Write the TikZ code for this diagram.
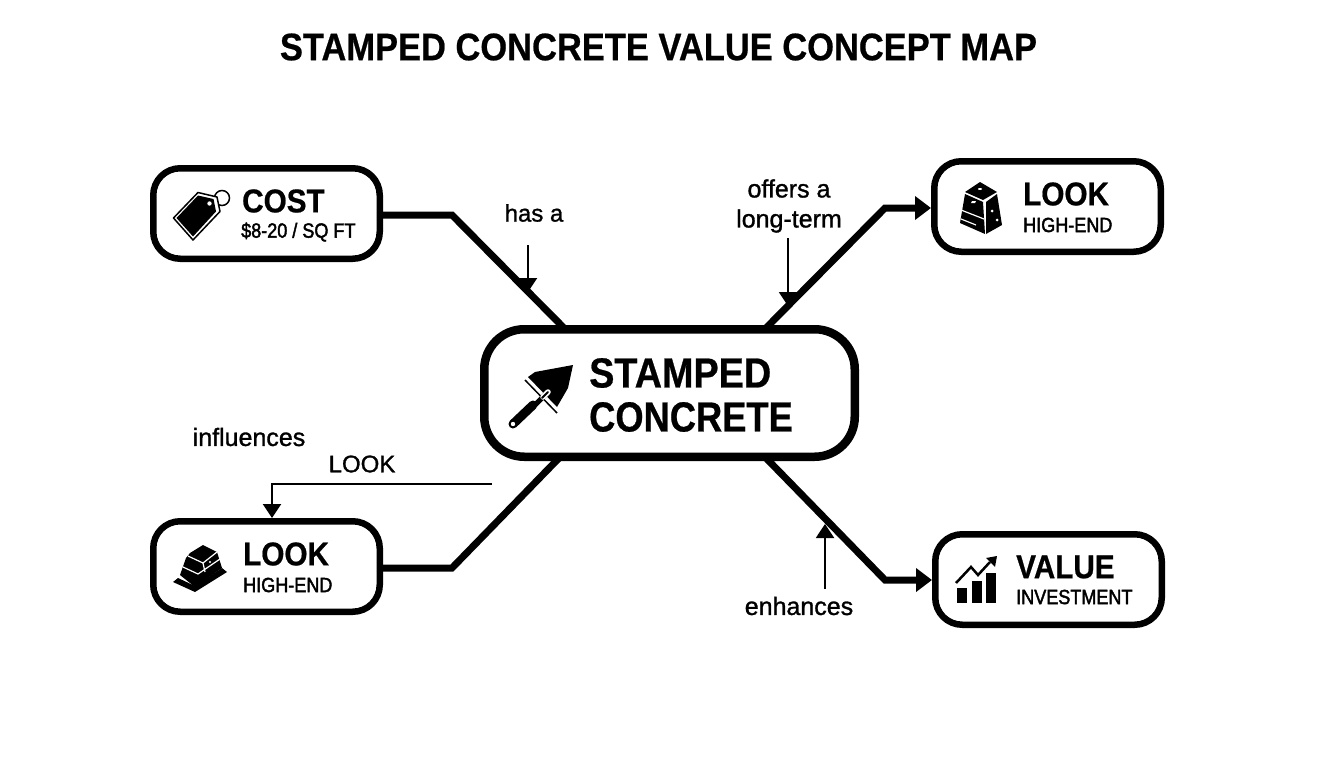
\documentclass[tikz,border=0pt]{standalone}
\usepackage{fontspec}
\setmainfont{Liberation Sans}
\newfontface\headfont[FakeStretch=0.9,FakeBold=0.6]{Liberation Sans Bold}
\newfontface\subfont[FakeStretch=0.88,FakeBold=2]{Liberation Sans}
\newfontface\labelfont[FakeBold=1.2]{Liberation Sans}
\usetikzlibrary{positioning,arrows.meta}

\begin{document}
\begin{tikzpicture}[
    x = 1pt,
    y = -1pt,
    >= {Triangle[length=14pt,width=18pt]},
    mapbox/.style={draw, line width=6.5pt, rounded corners=27pt, minimum width=226.5pt, minimum height=90.5pt, inner sep=0pt},
    mainbox/.style={draw, line width=8.5pt, rounded corners=40pt, minimum width=370.5pt, minimum height=127.5pt, inner sep=0pt},
    link/.style={line width=7pt, line join=miter},
    linkin/.style={link, -{Triangle[length=16pt,width=23pt]}},
    pointer/.style={line width=2pt, ->},
    head/.style={anchor=west, inner sep=0pt, font=\headfont\fontsize{33}{33}\selectfont},
    subhead/.style={anchor=west, inner sep=0pt, font=\subfont\fontsize{20.5}{20.5}\selectfont},
    mainhead/.style={anchor=west, inner sep=0pt, font=\headfont\fontsize{42}{42}\selectfont},
    tag/.style={inner sep=0pt, font=\labelfont\fontsize{25}{30}\selectfont, align=center}
]
    \useasboundingbox (0,0) rectangle (1344,768);

    \node[inner sep=0pt, font=\headfont\fontsize{38.3}{38.3}\selectfont] (title) at (658.5,47) {STAMPED CONCRETE VALUE CONCEPT MAP};

    % boxes
    \node[mainbox] (main) at (669.5,393) {};
    \node[mapbox, above left=63pt and 97pt of main] (cost) {};
    \node[mapbox, above right=70pt and 72pt of main] (looktop) {};
    \node[mapbox, below left=57pt and 97pt of main] (lookbot) {};
    \node[mapbox, below right=70pt and 73pt of main] (value) {};

    % box texts
    \node[mainhead] (stamped) at (589,373) {STAMPED};
    \node[mainhead, xscale=0.96] (concrete) at (589,417) {CONCRETE};
    \node[head] (costhead) at (242,201) {COST};
    \node[subhead] (costsub) at (241,232) {\$8-20 / SQ FT};
    \node[head] (lookhead) at (1023,194) {LOOK};
    \node[subhead] (looksub) at (1023,225) {HIGH-END};
    \node[head] (lookbothead) at (243,554) {LOOK};
    \node[subhead] (lookbotsub) at (243,585) {HIGH-END};
    \node[head] (valuehead) at (1016,567) {VALUE};
    \node[subhead] (valuesub) at (1016,597) {INVESTMENT};

    % connectors
    \coordinate (costbend) at (452,215);
    \coordinate (costend) at (565,329);
    \coordinate (lookbend) at (885,208);
    \coordinate (lookend) at (765,329);
    \coordinate (lowbend) at (452,568);
    \coordinate (lowend) at (560,457);
    \coordinate (valuebend) at (885,580);
    \coordinate (valueend) at (765,457);
    \draw[link] (cost.east |- costbend) -- (costbend) -- (costend);
    \draw[linkin] (lookend) -- (lookbend) -- (looktop.west |- lookbend);
    \draw[link] (lookbot.east |- lowbend) -- (lowbend) -- (lowend);
    \draw[linkin] (valueend) -- (valuebend) -- (value.west |- valuebend);

    % small labels and their pointers
    \node[tag, font=\labelfont\fontsize{24}{30}\selectfont] (hasa) at (534,213) {has a};
    \node[tag] (offers) at (789,206) {offers a\\long-term};
    \node[tag] (influences) at (249,437) {influences};
    \node[tag, font=\labelfont\fontsize{24}{30}\selectfont] (looklabel) at (362,464) {LOOK};
    \node[tag] (enhances) at (799,606) {enhances};
    \coordinate (hasfrom) at (528,245);
    \coordinate (hasto) at (528,292);
    \coordinate (offersfrom) at (788,238);
    \coordinate (offersto) at (788,306);
    \coordinate (enhfrom) at (825,589);
    \coordinate (enhto) at (825,524);
    \coordinate (leadfrom) at (492,484);
    \coordinate (leadbend) at (272,484);
    \draw[pointer] (hasfrom) -- (hasto);
    \draw[pointer] (offersfrom) -- (offersto);
    \draw[pointer] (enhfrom) -- (enhto);
    \draw[pointer] (leadfrom) -- (leadbend) -- (leadbend |- lookbot.north);

    % tag icon
    \draw[line width=1.5pt] (222,198) circle (7.5);
    \draw[line width=1.5pt, fill=white, line join=round] (173.5,218) -- (193,240) -- (220,211.5) -- (217,197) -- (198,192.5) -- cycle;
    \fill[line join=round] (176.5,218) -- (193,236.5) -- (216,211.5) -- (213.5,199) -- (198,195.5) -- cycle;
    \fill[white] (209.5,203.5) circle (2.2);

    % tall block icon
    \fill (965,192) -- (980,182) -- (997,192) -- (983,200) -- cycle;
    \fill (965,194) -- (983,202) -- (985,234) -- (960,223) -- cycle;
    \fill (986,202) -- (997,194) -- (1002,225) -- (986,234) -- cycle;
    \draw[white, line width=1.2pt] (961,210) -- (984,219);
    \draw[white, line width=1.2pt] (961,219) -- (976,225);
    \fill[white] (972,201) -- (976,201) -- (975,203) -- (971,203) -- cycle;
    \fill[white] (980,189) ellipse (2 and 1);
    \fill[white] (992,211) circle (1.5);
    \fill[white] (997,220) circle (1.5);

    % trowel icon
    \fill[line join=round] (528,377) -- (535,372) -- (573,365) -- (568,388) -- (557,407) -- cycle;
    \draw[white, line width=4.5pt] (524,379) -- (557,413);
    \draw[line width=1.5pt] (525,380) -- (557,413);
    \draw[line cap=round, line width=5pt] (535,405) -- (546,394);
    \draw[white, line cap=round, line width=5.5pt] (543,397) -- (548,392);
    \draw[line cap=round, line width=2pt] (542,398) -- (548,392);
    \draw[line cap=round, line width=9pt] (513,424) -- (533,405);
    \fill[white] (513,424) circle (2.2);

    % brick stack icon
    \fill (173,582) -- (195,592) -- (227,572) -- (222,568) -- (195,586) -- (178,578) -- cycle;
    \fill (180,575) -- (186,558) -- (190,553) -- (203,545) -- (217,552) -- (222,568) -- (195,587) -- cycle;
    \draw[white, line width=1.2pt] (188,556) -- (203,563) -- (217,552);
    \draw[white, line width=1.2pt] (183,567) -- (198,574) -- (220,559);
    \draw[white, line width=1.2pt] (203,563) -- (205,572);
    \fill[white] (210,562) circle (1.2);

    % chart icon
    \fill (957,588) rectangle (967,603);
    \fill (972,581) rectangle (982,603);
    \fill (986,573) rectangle (996,603);
    \draw[line width=2.5pt] (956,583) -- (971,567) -- (978,575) -- (990,562);
    \fill (997,556) -- (986,558) -- (995,567) -- cycle;
\end{tikzpicture}
\end{document}
